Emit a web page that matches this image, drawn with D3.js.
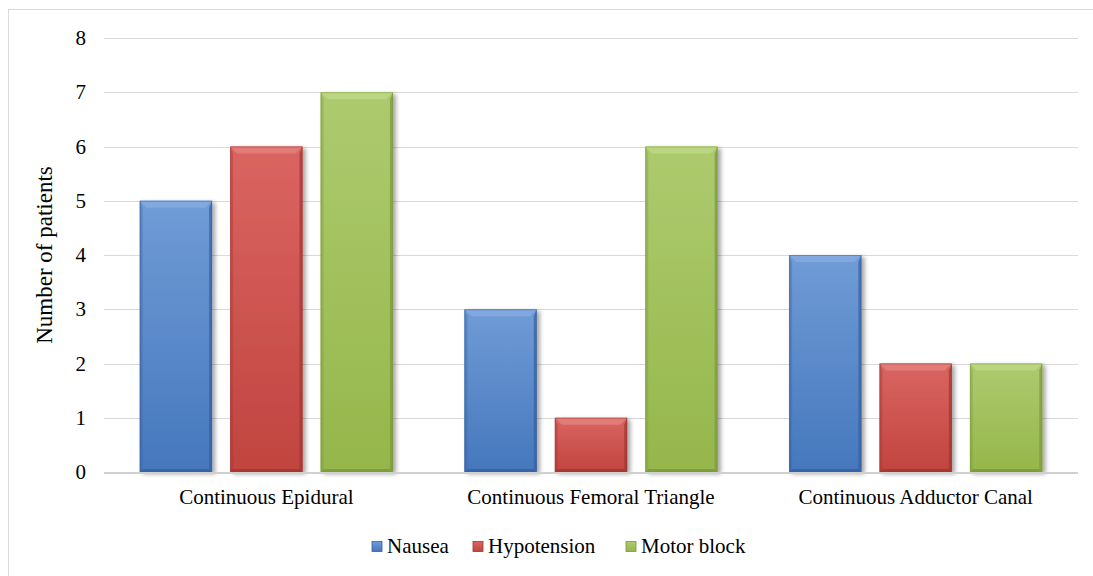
<!DOCTYPE html>
<html>
<head>
<meta charset="utf-8">
<script src="https://cdn.jsdelivr.net/npm/d3@7/dist/d3.min.js"></script>
<style>
  html, body { margin: 0; padding: 0; background: #fff; }
  svg { display: block; }
  svg text { font-family: "Liberation Serif", Tinos, "Times New Roman", Times, serif; fill: #000; }
</style>
</head>
<body>
<svg id="chart" width="1093" height="576"></svg>
<script>
// Adverse events by analgesia technique
const categories = ["Continuous Epidural", "Continuous Femoral Triangle", "Continuous Adductor Canal"];
const seriesNames = ["Nausea", "Hypotension", "Motor block"];
const nausea = [5, 3, 4];
const hypotension = [6, 1, 2];
const motorBlock = [7, 6, 2];
const yTicks = [0, 1, 2, 3, 4, 5, 6, 7, 8];
const yTitle = "Number of patients";

const seriesValues = [nausea, hypotension, motorBlock];
const palette = [
  { light: "#709cd6", base: "#4577bd", dark: "#36609f", top: "#82aae0" },
  { light: "#da6561", base: "#c1443f", dark: "#a23531", top: "#e27d79" },
  { light: "#adcb6e", base: "#95b64b", dark: "#7a983a", top: "#bcd684" }
];
const FONT = 21;
const TITLE_FONT = 23;

const svg = d3.select("#chart");
const W = 1093, H = 576;
const plot = { left: 104, right: 1078, top: 38, bottom: 472 };

const defs = svg.append("defs");
const shadow = defs.append("filter").attr("id", "barShadow")
  .attr("x", "-20%").attr("y", "-10%").attr("width", "140%").attr("height", "130%");
shadow.append("feDropShadow").attr("dx", 3).attr("dy", 2).attr("stdDeviation", 2.2)
  .attr("flood-color", "#000").attr("flood-opacity", 0.35);

palette.forEach((c, i) => {
  const g = defs.append("linearGradient").attr("id", "grad" + i)
    .attr("x1", 0).attr("y1", 0).attr("x2", 0).attr("y2", 1);
  g.append("stop").attr("offset", "0%").attr("stop-color", c.light);
  g.append("stop").attr("offset", "100%").attr("stop-color", c.base);
});

// chart area frame
svg.append("rect").attr("x", 8.5).attr("y", 9.5).attr("width", W + 10).attr("height", H + 10)
  .attr("fill", "none").attr("stroke", "#d9d9d9").attr("stroke-width", 1);

const y = d3.scaleLinear().domain([0, 8]).range([plot.bottom, plot.top]);
const x0 = d3.scaleBand().domain(categories).range([plot.left, plot.right]).paddingInner(0.22).paddingOuter(0.11);
const x1 = d3.scaleBand().domain(seriesNames).range([0, x0.bandwidth()]).paddingInner(0.2);

// gridlines
svg.append("g").selectAll("line").data(yTicks.filter(t => t > 0)).join("line")
  .attr("x1", plot.left).attr("x2", plot.right)
  .attr("y1", d => Math.round(y(d)) + 0.5).attr("y2", d => Math.round(y(d)) + 0.5)
  .attr("stroke", "#d9d9d9").attr("stroke-width", 1);

// y axis labels
const yAxis = d3.axisLeft(y).tickValues(yTicks).tickSize(0).tickPadding(0).tickFormat(d3.format("d"));
const yg = svg.append("g").attr("transform", `translate(86,0)`).call(yAxis)
  .attr("font-family", null).attr("font-size", FONT);
yg.select(".domain").remove();
yg.selectAll("text").attr("fill", "#000");

// bars
const groups = svg.append("g").selectAll("g").data(categories).join("g")
  .attr("transform", d => `translate(${x0(d)},0)`);

groups.each(function(cat, ci) {
  const g = d3.select(this);
  seriesNames.forEach((s, si) => {
    const v = seriesValues[si][ci];
    const bx = x1(s), bw = x1.bandwidth();
    const by = y(v), bh = y(0) - y(v);
    const c = palette[si];
    const b = 7, sb = 3;
    const bar = g.append("g").attr("filter", "url(#barShadow)");
    bar.append("rect").attr("x", bx).attr("y", by).attr("width", bw).attr("height", bh)
      .attr("fill", `url(#grad${si})`);
    // top bevel
    bar.append("polygon")
      .attr("points", [[bx, by], [bx + bw, by], [bx + bw - b, by + b], [bx + b, by + b]].join(" "))
      .attr("fill", c.top).attr("opacity", 0.95);
    // right bevel
    bar.append("polygon")
      .attr("points", [[bx + bw, by], [bx + bw, by + bh], [bx + bw - sb, by + bh - sb], [bx + bw - sb, by + b]].join(" "))
      .attr("fill", c.dark).attr("opacity", 0.7);
    // left bevel
    bar.append("polygon")
      .attr("points", [[bx, by], [bx + sb, by + b], [bx + sb, by + bh - sb], [bx, by + bh]].join(" "))
      .attr("fill", c.dark).attr("opacity", 0.35);
    // bottom bevel
    bar.append("polygon")
      .attr("points", [[bx, by + bh], [bx + bw, by + bh], [bx + bw - sb, by + bh - sb], [bx + sb, by + bh - sb]].join(" "))
      .attr("fill", c.dark).attr("opacity", 0.8);
    bar.append("rect").attr("x", bx + 0.5).attr("y", by + 0.5).attr("width", bw - 1).attr("height", bh - 1)
      .attr("fill", "none").attr("stroke", c.dark).attr("stroke-opacity", 0.5);
  });
});

// baseline
svg.append("line").attr("x1", plot.left).attr("x2", plot.right)
  .attr("y1", plot.bottom + 1).attr("y2", plot.bottom + 1)
  .attr("stroke", "#d0d0d0").attr("stroke-width", 2);

// category labels
const xAxis = d3.axisBottom(x0).tickSize(0).tickPadding(0);
const xg = svg.append("g").attr("transform", `translate(0,${plot.bottom + 17})`).call(xAxis)
  .attr("font-family", null).attr("font-size", FONT);
xg.select(".domain").remove();
xg.selectAll("text").attr("fill", "#000").attr("dy", "0.71em");

// y axis title
svg.append("text").attr("transform", `translate(52,${(plot.top + plot.bottom) / 2}) rotate(-90)`)
  .attr("text-anchor", "middle").attr("font-size", TITLE_FONT).text(yTitle);

// legend
const legendX = [372, 473, 626];
const lg = svg.append("g").selectAll("g").data(seriesNames).join("g")
  .attr("transform", (d, i) => `translate(${legendX[i]},${546})`);
lg.append("rect").attr("x", 0).attr("y", -4.5).attr("width", 10).attr("height", 10)
  .attr("fill", (d, i) => `url(#grad${i})`)
  .attr("stroke", (d, i) => palette[i].dark).attr("stroke-width", 0.8);
lg.append("text").attr("x", 15).attr("y", 0).attr("dy", "0.35em").attr("font-size", FONT).text(d => d);
</script>
</body>
</html>
